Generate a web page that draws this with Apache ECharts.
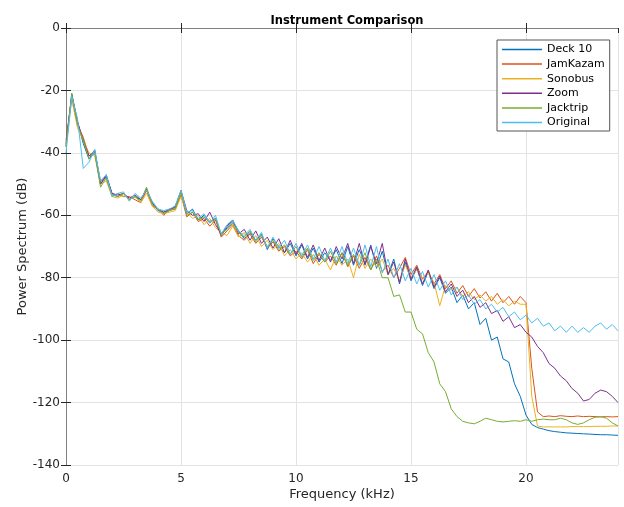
<!DOCTYPE html>
<html>
<head>
<meta charset="utf-8">
<script src="https://cdn.jsdelivr.net/npm/echarts@6/dist/echarts.min.js"></script>
<style>
    html, body { margin: 0; padding: 0; background: #fff; }
    #chart { width: 624px; height: 507px; }
</style>
</head>
<body>
<div id="chart"></div>
<script>
// frequency bins (kHz)
var freq = [0, 0.25, 0.5, 0.75, 1, 1.25, 1.5, 1.75, 2, 2.25,
    2.5, 2.75, 3, 3.25, 3.5, 3.75, 4, 4.25, 4.5, 4.75,
    5, 5.25, 5.5, 5.75, 6, 6.25, 6.5, 6.75, 7, 7.25,
    7.5, 7.75, 8, 8.25, 8.5, 8.75, 9, 9.25, 9.5, 9.75,
    10, 10.25, 10.5, 10.75, 11, 11.25, 11.5, 11.75, 12, 12.25,
    12.5, 12.75, 13, 13.25, 13.5, 13.75, 14, 14.25, 14.5, 14.75,
    15, 15.25, 15.5, 15.75, 16, 16.25, 16.5, 16.75, 17, 17.25,
    17.5, 17.75, 18, 18.25, 18.5, 18.75, 19, 19.25, 19.5, 19.75,
    20, 20.25, 20.5, 20.75, 21, 21.25, 21.5, 21.75, 22, 22.25,
    22.5, 22.75, 23, 23.25, 23.5, 23.75, 24];

var deck10 = [-38, -21, -30, -37, -42, -39, -50, -47, -53, -54,
    -53, -55, -54, -55, -52, -56, -58.5, -59, -58.5, -57,
    -52.5, -59.5, -58, -61.5, -60, -62, -61, -66.5, -64, -62,
    -65, -67.5, -65.5, -68, -66, -71, -67.5, -70, -72, -69,
    -73, -69.5, -74, -70.5, -75, -72, -74.5, -71, -75.5, -70,
    -76, -71, -75.5, -69.5, -77, -71.5, -79, -74, -82, -75,
    -81, -77, -82.5, -78, -83.5, -80, -85, -83, -88, -85.5,
    -90, -88, -95, -93, -100, -99, -106, -107, -114, -118,
    -124, -127, -128, -128.5, -129, -129.3, -129.5, -129.7, -129.8, -129.9,
    -130, -130.1, -130.2, -130.3, -130.3, -130.4, -130.5];

var jamKazam = [-36, -22, -31, -35, -41, -40, -49, -48, -54, -53,
    -54, -54, -55, -56, -52, -57, -58, -60, -58, -58,
    -53.5, -60.5, -59, -62, -61, -63.5, -61.5, -67, -65, -63,
    -66.5, -68, -66, -69, -67, -70.5, -68.5, -71.5, -70, -73,
    -71.5, -74, -71, -75.5, -72.5, -75, -73, -76, -72, -76.5,
    -73, -77, -73.5, -77.5, -73, -78, -76, -80, -77, -73.5,
    -79, -76, -80.5, -78, -82, -79, -83.5, -81, -85, -82.5,
    -86, -83.5, -86.5, -84.5, -87.5, -85, -88, -86, -88.5, -86,
    -88, -109, -123, -124.5, -124.3, -124.5, -124.2, -124.4, -124.5, -124.3,
    -124.5, -124.4, -124.5, -124.6, -124.5, -124.6, -124.5];

var sonobus = [-38, -23, -32, -36, -40, -41, -50, -49, -54, -54.5,
    -53.5, -55, -54, -56, -53, -57, -59, -59.5, -59, -58.5,
    -54, -59, -61, -60, -63, -61, -64, -65.5, -66.5, -63.5,
    -67, -65.5, -69, -66.5, -70, -68, -71, -69, -73, -71,
    -74, -72, -75, -72.5, -76, -74, -77.5, -73, -76, -74,
    -80, -72.5, -77, -74, -76.5, -74, -79, -77, -81, -76,
    -80, -77.5, -80, -78.5, -81.5, -89, -82.5, -84, -83, -86,
    -84.5, -87, -85.5, -87.5, -86, -88.5, -87, -89, -87.5, -88.5,
    -88.5, -118, -127.5, -127.8, -127.8, -127.8, -127.8, -127.8, -127.7, -127.7,
    -127.7, -127.7, -127.6, -127.6, -127.6, -127.5, -127.5];

var zoom = [-37, -21.5, -30, -36, -41, -39.5, -50, -47.5, -53, -53.5,
    -53, -54.5, -53.5, -55, -51.5, -56, -58, -59, -58, -57.5,
    -52, -58.5, -60, -59.5, -62, -59, -63, -66, -63.5, -61.5,
    -66, -64.5, -68, -65, -69, -67, -70.5, -67.5, -72, -68,
    -72.5, -69, -73.5, -69.5, -74.5, -70.5, -75, -70, -74, -69,
    -75.5, -69, -76, -70, -75.5, -69, -79, -75, -81.5, -74,
    -80.5, -76.5, -82, -77.5, -83, -79.5, -84.5, -82, -86, -84,
    -88, -86, -89.5, -88, -91.5, -90.5, -94, -92.5, -96, -95,
    -97.5, -99, -102, -104, -107.5, -109, -111.5, -113, -115.5, -117,
    -119.5, -119, -117, -116, -116.5, -118, -120];

var jacktrip = [-38, -21, -31, -36, -42, -40, -51, -48, -53.5, -54,
    -53, -55, -54, -55.5, -51, -56.5, -58, -59.5, -58.5, -58,
    -52.5, -60, -59, -61.5, -60.5, -62.5, -61, -66, -64.5, -62.5,
    -65.5, -67, -65, -68.5, -66.5, -70, -68, -71, -69.5, -72.5,
    -70, -73.5, -70.5, -74.5, -72, -75, -71.5, -75.5, -72, -76,
    -72.5, -76, -72, -77.5, -74, -80, -80, -86, -85.5, -91,
    -91, -96.5, -98, -104, -107, -114, -116.5, -122, -124.5, -126,
    -126.5, -126.8, -126, -125, -125.5, -126, -126.2, -126, -125.8, -126,
    -125.5, -126, -125.5, -125.3, -125.5, -125.5, -125, -125.5, -126.5, -127,
    -126.5, -125.5, -124.7, -124.5, -125, -126.5, -127.5];

var original = [-40, -22, -29, -45, -43, -39, -49, -47, -54, -53,
    -52.5, -55.5, -53, -54.5, -52, -55.5, -58, -58.5, -58, -57,
    -52, -59, -58.5, -61, -59.5, -62.5, -60, -66, -63, -61.5,
    -65, -66.5, -64.5, -68, -65.5, -70.5, -67, -70.5, -68, -72.5,
    -69, -73, -69.5, -74, -70, -74.5, -70.5, -75, -70, -75.5,
    -70.5, -76, -69.5, -76.5, -70, -78.5, -74, -80, -75.5, -81,
    -77, -82, -78, -83, -79, -84, -81, -85.5, -83, -87,
    -85.5, -88.5, -87, -90, -88.5, -91, -89.5, -92.5, -91, -93.5,
    -92, -94.5, -93, -95.5, -94.5, -97, -95.5, -97.5, -95.5, -97.5,
    -96, -97.5, -95.5, -94.5, -96.5, -95, -97];

var seriesNames = ['Deck 10', 'JamKazam', 'Sonobus', 'Zoom', 'Jacktrip', 'Original'];
var seriesValues = [deck10, jamKazam, sonobus, zoom, jacktrip, original];
var seriesColors = ['#0072BD', '#D95319', '#EDB120', '#7E2F8E', '#77AC30', '#4DBEEE'];

var font = 'DejaVu Sans';
var chart = echarts.init(document.getElementById('chart'));

var series = [];
for (var s = 0; s < seriesNames.length; s++) {
    var pts = [];
    for (var i = 0; i < freq.length; i++) {
        pts.push([freq[i], seriesValues[s][i]]);
    }
    series.push({
        type: 'line',
        name: seriesNames[s],
        data: pts,
        symbol: 'none',
        showSymbol: false,
        animation: false,
        lineStyle: {width: 1, color: seriesColors[s]},
        itemStyle: {color: seriesColors[s]}
    });
}

var axisColor = '#808080';
chart.setOption({
    animation: false,
    title: {
        text: 'Instrument Comparison',
        left: 342,
        textAlign: 'center',
        top: 10,
        textStyle: {fontFamily: font, fontSize: 11.5, fontWeight: 'bold', color: '#000'}
    },
    legend: {
        orient: 'vertical',
        left: 497,
        top: 40,
        padding: [3, 5, 2, 5],
        icon: 'rect',
        itemWidth: 40,
        itemHeight: 1.5,
        itemGap: 1.6,
        borderColor: '#555',
        borderWidth: 1,
        backgroundColor: '#fff',
        textStyle: {fontFamily: font, fontSize: 11, color: '#000', lineHeight: 13},
        data: seriesNames
    },
    grid: {left: 66, top: 28, right: 6, bottom: 42},
    xAxis: [{
        type: 'value',
        min: 0,
        max: 24,
        interval: 5,
        name: 'Frequency (kHz)',
        nameLocation: 'middle',
        nameGap: 23,
        nameMoveOverlap: false,
        nameTextStyle: {fontFamily: font, fontSize: 13, color: '#262626'},
        axisLine: {lineStyle: {color: axisColor}},
        axisTick: {inside: true, length: 5, lineStyle: {color: '#262626'}},
        axisLabel: {fontFamily: font, fontSize: 12, color: '#262626', margin: 8, showMaxLabel: false},
        splitLine: {show: true, lineStyle: {color: '#e3e3e3'}}
    }, {
        type: 'value',
        position: 'top',
        min: 0,
        max: 24,
        interval: 5,
        axisLine: {show: true, lineStyle: {color: axisColor}},
        axisTick: {show: true, inside: true, length: 5, lineStyle: {color: '#262626'}},
        axisLabel: {show: false},
        splitLine: {show: false}
    }],
    yAxis: [{
        type: 'value',
        min: -140,
        max: 0,
        interval: 20,
        name: 'Power Spectrum (dB)',
        nameLocation: 'middle',
        nameGap: 37,
        nameMoveOverlap: false,
        nameTextStyle: {fontFamily: font, fontSize: 13, color: '#262626'},
        axisLine: {show: true, lineStyle: {color: axisColor}},
        axisTick: {show: true, inside: true, length: 5, lineStyle: {color: '#262626'}},
        axisLabel: {fontFamily: font, fontSize: 12, color: '#262626', margin: 6},
        splitLine: {show: true, lineStyle: {color: '#e3e3e3'}}
    }, {
        type: 'value',
        position: 'right',
        min: -140,
        max: 0,
        interval: 20,
        axisLine: {show: true, lineStyle: {color: axisColor}},
        axisTick: {show: true, inside: true, length: 5, lineStyle: {color: '#262626'}},
        axisLabel: {show: false},
        splitLine: {show: false}
    }],
    series: series
});
</script>
</body>
</html>
